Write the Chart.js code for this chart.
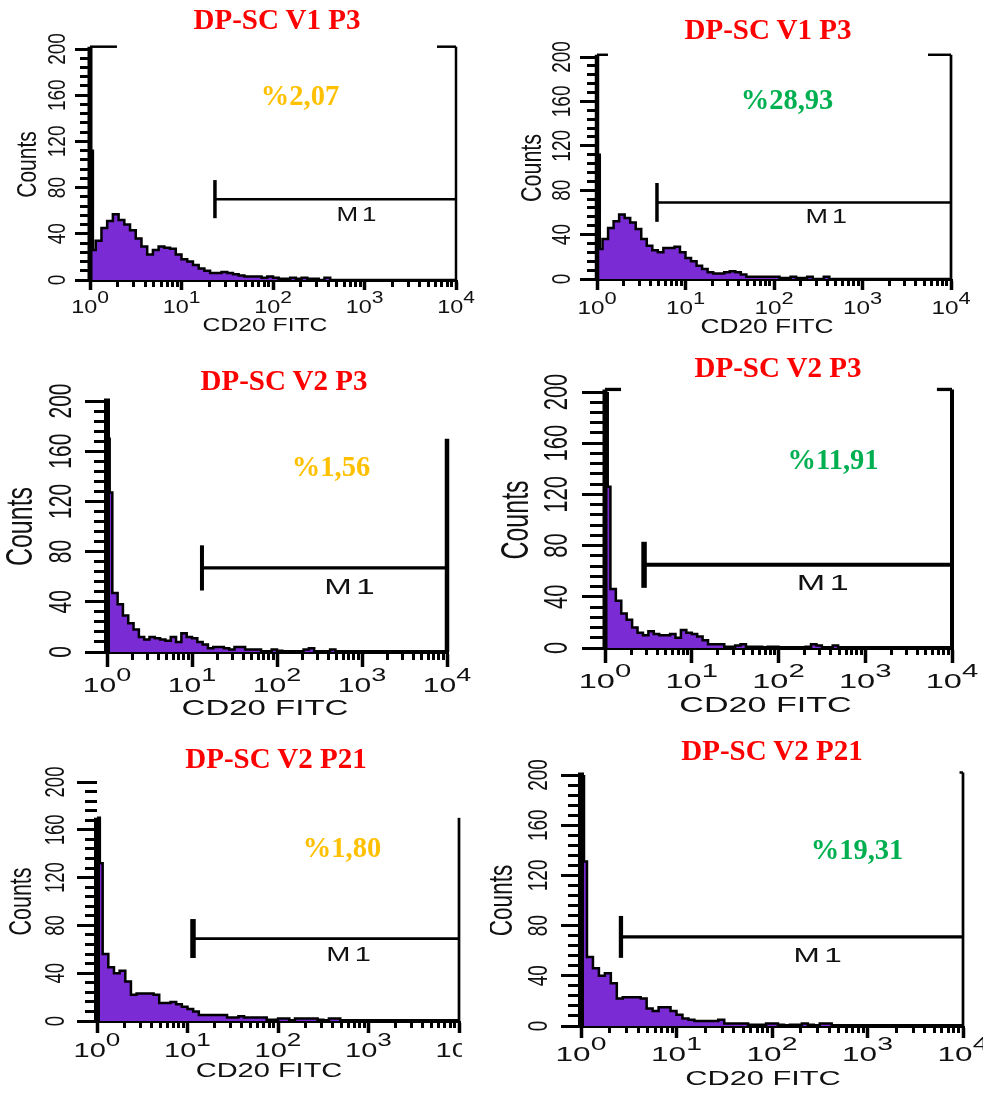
<!DOCTYPE html>
<html>
<head>
<meta charset="utf-8">
<script src="https://cdn.jsdelivr.net/npm/chart.js@4.4.1/dist/chart.umd.min.js"></script>
<style>
    html, body { margin: 0; padding: 0; background: #fff; }
    body { width: 983px; height: 1094px; position: relative; overflow: hidden; }
    canvas { position: absolute; }
    .lbl {
        position: absolute;
        transform: translate(-50%, -50%);
        font-family: "Liberation Serif", "Times New Roman", serif;
        font-weight: bold;
        line-height: 1;
        white-space: nowrap;
    }
</style>
</head>
<body>
<script>
// --- data ---
// histogram bin left edges (CD20 FITC channel, log scale); first two bins are the narrow spike at 10^0
const binEdges = [1, 1.075, 1.155, 1.334, 1.54, 1.778, 2.054, 2.371, 2.738, 3.162, 3.652, 4.217, 4.87, 5.623,
    6.494, 7.499, 8.66, 10, 11.55, 13.34, 15.4, 17.78, 20.54, 23.71, 27.38, 31.62, 36.52, 42.17, 48.7, 56.23,
    64.94, 74.99, 86.6, 100, 115.5, 133.4, 154, 177.8, 205.4, 237.1, 273.8, 316.2, 365.2, 421.7, 487, 562.3,
    649.4, 749.9, 866, 1000];

const countsV1P3A = [112, 26, 34, 45, 51, 57, 52, 48, 43, 36, 29, 22, 26, 29, 28, 27, 22, 18, 16, 13, 10, 8,
    6, 6, 7, 6, 5, 4, 3, 3, 3, 2, 3, 2, 1, 1, 2, 1, 2, 1, 1, 0, 2, 0, 0, 0, 0, 0, 0];
const countsV1P3B = [112, 27, 36, 46, 52, 58, 55, 51, 45, 36, 30, 26, 24, 28, 28, 29, 24, 19, 16, 12, 9, 6,
    5, 5, 6, 7, 6, 4, 2, 2, 2, 2, 2, 2, 1, 1, 2, 1, 1, 2, 0, 0, 2, 0, 0, 0, 0, 0, 0];
const countsV2P3A = [170, 127, 47, 38, 29, 23, 18, 12, 10, 12, 11, 10, 9, 12, 8, 15, 12, 11, 8, 6, 3, 4,
    4, 3, 2, 4, 4, 2, 2, 2, 0, 0, 2, 1, 0, 0, 0, 0, 2, 3, 0, 0, 0, 2, 0, 0, 0, 0, 0];
const countsV2P3B = [200, 126, 46, 37, 27, 22, 16, 12, 10, 13, 11, 10, 10, 11, 8, 14, 12, 11, 9, 6, 3, 3,
    3, 1, 1, 2, 3, 1, 1, 1, 0, 1, 1, 0, 0, 0, 0, 0, 1, 3, 2, 0, 0, 2, 0, 0, 0, 0, 0];
const countsV2P21A = [170, 132, 56, 45, 40, 42, 33, 22, 23, 23, 23, 22, 15, 15, 16, 14, 12, 10, 8, 5, 5, 5,
    5, 5, 3, 3, 4, 3, 3, 3, 3, 1, 1, 2, 2, 0, 2, 2, 2, 2, 1, 0, 2, 2, 0, 0, 0, 0, 0];
const countsV2P21B = [200, 131, 55, 46, 40, 42, 34, 22, 23, 23, 23, 22, 14, 12, 15, 15, 12, 9, 6, 5, 4, 4,
    4, 4, 5, 2, 2, 2, 2, 1, 1, 1, 2, 2, 1, 0, 1, 1, 2, 1, 0, 2, 2, 0, 0, 0, 0, 0, 0];

const panelTitles = ['DP-SC V1 P3', 'DP-SC V1 P3', 'DP-SC V2 P3', 'DP-SC V2 P3', 'DP-SC V2 P21', 'DP-SC V2 P21'];
const percentLabels = ['%2,07', '%28,93', '%1,56', '%11,91', '%1,80', '%19,31'];
const percentColors = ['#FFC000', '#00B050', '#FFC000', '#00B050', '#FFC000', '#00B050'];

// M1 marker: start channel and height (counts)
const gateStarts = [23.2, 4.76, 13.1, 2.82, 11.5, 2.62];
const gateLevels = [70, 69, 67, 65, 69, 71];

const xDecades = [0, 1, 2, 3, 4];
const xMultipliers = [1, 2, 3, 4, 5, 6, 7, 8, 9];
const yLabelValues = [0, 40, 80, 120, 160, 200];
const yMinorTicks = [0, 8, 16, 24, 32, 40, 48, 56, 64, 72, 80, 88, 96, 104, 112, 120, 128, 136, 144, 152,
    160, 168, 176, 184, 192, 200];
const xTitle = 'CD20 FITC';
const yTitle = 'Counts';
const markerName = 'M1';

const purple = '#7a2bd4';
const axisFont = '"Liberation Sans", Arial, Helvetica, sans-serif';

// --- layout of the six panels (page pixels) ---
const panels = [
    { counts: countsV1P3A, box: [0, 0, 490, 345], yW: 90, padTop: 49, padRight: 34, xH: 65,
      title: [277, 19], pct: [300, 96], yMaj: 15, yMin: 10, xMaj: 10, xMin: 7, axisW: 5, baseW: 3,
      gateH: 16.5, gateVW: 3.5, gateHW: 2.5, rightW: 2.5, stubW: 2.5,
      frame: { leftTop: 202, top: 202, stubs: [[1, 1.97], [6200, 10000]], rightTop: 202 },
      text: { sx: 1.3, xFont: 18, xDy: 28, yFont: 19, yDx: -32, countsFont: 21, countsDx: -62,
              cdFont: 19, cdDx: -8, cdDy: 46, m1Font: 20, m1: [859, 56] } },
    { counts: countsV1P3B, box: [490, 0, 493, 345], yW: 107, padTop: 57, padRight: 32, xH: 66,
      title: [768, 29], pct: [787, 100], yMaj: 17, yMin: 10, xMaj: 11, xMin: 7, axisW: 4.5, baseW: 3,
      gateH: 17.5, gateVW: 3.5, gateHW: 2.5, rightW: 2.7, stubW: 2.5,
      frame: { leftTop: 202, top: 202, stubs: [[1, 1.33], [5500, 10000]], rightTop: 202 },
      text: { sx: 1.35, xFont: 18, xDy: 30, yFont: 19, yDx: -34, countsFont: 21.5, countsDx: -64,
              cdFont: 19.5, cdDx: -7, cdDy: 48.5, m1Font: 20, m1: [411, 55] } },
    { counts: countsV2P3A, box: [0, 360, 490, 370], yW: 107, padTop: 41, padRight: 43, xH: 78,
      title: [284, 380], pct: [331, 467], yMaj: 22, yMin: 13, xMaj: 15, xMin: 8, axisW: 6, baseW: 4,
      gateH: 18, gateVW: 4, gateHW: 3.3, rightW: 4.5, stubW: 3,
      frame: { leftTop: 202, top: 202, stubs: [], rightTop: 170 },
      text: { sx: 1.5, xFont: 20, xDy: 34, yFont: 21, yDx: -45, countsFont: 25, countsDx: -85,
              cdFont: 22, cdDx: -12, cdDy: 57, m1Font: 22, m1: [757, 51] } },
    { counts: countsV2P3B, box: [490, 360, 493, 370], yW: 115, padTop: 32, padRight: 31, xH: 82,
      title: [778, 367], pct: [833, 460], yMaj: 23, yMin: 15, xMaj: 15, xMin: 7, axisW: 5, baseW: 4,
      gateH: 18, gateVW: 5.5, gateHW: 4, rightW: 4, stubW: 3.3,
      frame: { leftTop: 202, top: 202, stubs: [[1, 1.53], [6700, 10000]], rightTop: 202 },
      text: { sx: 1.55, xFont: 21, xDy: 34, yFont: 22, yDx: -47, countsFont: 25, countsDx: -88,
              cdFont: 22, cdDx: -13, cdDy: 58, m1Font: 22, m1: [344, 50] } },
    { counts: countsV2P21A, box: [0, 730, 462, 364], yW: 97, padTop: 52, padRight: 3, xH: 73,
      title: [276, 758], pct: [342, 848], yMaj: 20, yMin: 12, xMaj: 12, xMin: 7, axisW: 6, baseW: 4,
      gateH: 16.3, gateVW: 5.5, gateHW: 2.7, rightW: 2.7, stubW: 2.5,
      frame: { leftTop: 170, top: 202, stubs: [], rightTop: 170 },
      text: { sx: 1.45, xFont: 20, xDy: 30, yFont: 18.5, yDx: -40, countsFont: 21.5, countsDx: -75,
              cdFont: 20, cdDx: -9, cdDy: 50, m1Font: 20, m1: [638, 55] } },
    { counts: countsV2P21B, box: [490, 730, 493, 364], yW: 91, padTop: 45, padRight: 20, xH: 68,
      title: [772, 750], pct: [857, 850], yMaj: 20, yMin: 13, xMaj: 12, xMin: 7, axisW: 6, baseW: 4,
      gateH: 16.7, gateVW: 4.3, gateHW: 3.3, rightW: 2.7, stubW: 2.5,
      frame: { leftTop: 202, top: 202, stubs: [[9200, 10000]], rightTop: 202 },
      text: { sx: 1.5, xFont: 21, xDy: 29, yFont: 19, yDx: -42, countsFont: 22.5, countsDx: -78,
              cdFont: 20.5, cdDx: -9, cdDy: 53.5, m1Font: 21, m1: [318, 56] } }
];

// --- text helpers (the scanned plots are stretched sideways, so is the text) ---
function drawLabel(ctx, text, px, py, size, sx, rotated, spacing) {
    ctx.save();
    ctx.translate(px, py);
    ctx.scale(sx, 1);
    if (rotated) ctx.rotate(-Math.PI / 2);
    ctx.font = `${size}px ${axisFont}`;
    if (spacing) ctx.letterSpacing = spacing;
    ctx.textAlign = 'center';
    ctx.textBaseline = 'middle';
    ctx.fillText(text, 0, 0);
    ctx.restore();
}

function drawPower(ctx, px, py, exp, size, sx) {
    const supSize = size * 0.9;
    ctx.save();
    ctx.translate(px, py);
    ctx.scale(sx, 1);
    ctx.textAlign = 'left';
    ctx.textBaseline = 'middle';
    ctx.font = `${size}px ${axisFont}`;
    const wb = ctx.measureText('10').width;
    ctx.font = `${supSize}px ${axisFont}`;
    const ws = ctx.measureText(String(exp)).width;
    const x0 = -(wb + ws) / 2;
    ctx.font = `${size}px ${axisFont}`;
    ctx.fillText('10', x0, 0);
    ctx.font = `${supSize}px ${axisFont}`;
    ctx.fillText(String(exp), x0 + wb, -size * 0.5);
    ctx.restore();
}

const facsText = {
    id: 'facsText',
    afterDraw(chart, args, o) {
        const { ctx, chartArea: a } = chart;
        const x = chart.scales.x;
        const y = chart.scales.y;
        ctx.save();
        ctx.fillStyle = '#111';
        xDecades.forEach(e => {
            drawPower(ctx, x.getPixelForValue(Math.pow(10, e)), a.bottom + o.xDy, e, o.xFont, o.sx);
        });
        yLabelValues.forEach(v => {
            drawLabel(ctx, String(v), a.left + o.yDx, y.getPixelForValue(v), o.yFont, o.sx, true);
        });
        drawLabel(ctx, yTitle, a.left + o.countsDx, (a.top + a.bottom) / 2, o.countsFont, o.sx, true);
        drawLabel(ctx, xTitle, (a.left + a.right) / 2 + o.cdDx, a.bottom + o.cdDy, o.cdFont, o.sx, false);
        drawLabel(ctx, markerName, x.getPixelForValue(o.m1[0]), y.getPixelForValue(o.m1[1]),
            o.m1Font, o.sx, false, '3px');
        ctx.restore();
    }
};

function segment(points, width) {
    return {
        data: points.map(([px, py]) => ({ x: px, y: py })),
        borderColor: '#000',
        borderWidth: width,
        borderCapStyle: 'butt',
        pointRadius: 0,
        fill: false,
        clip: false
    };
}

function addLabel(text, pos, size, color) {
    const d = document.createElement('div');
    d.className = 'lbl';
    d.textContent = text;
    d.style.left = pos[0] + 'px';
    d.style.top = pos[1] + 'px';
    d.style.fontSize = size + 'px';
    d.style.color = color;
    document.body.appendChild(d);
}

const xMinorTicks = [];
xDecades.slice(0, -1).forEach(e => xMultipliers.forEach(m => xMinorTicks.push(m * Math.pow(10, e))));
xMinorTicks.push(10000);
const xMajorTicks = xDecades.map(e => Math.pow(10, e));

function renderPanel(p, i) {
    const canvas = document.createElement('canvas');
    canvas.width = p.box[2];
    canvas.height = p.box[3];
    canvas.style.left = p.box[0] + 'px';
    canvas.style.top = p.box[1] + 'px';
    document.body.appendChild(canvas);

    const histPoints = p.counts.map((c, k) => ({ x: binEdges[k], y: c }));
    histPoints.push({ x: binEdges[binEdges.length - 1], y: 0 });
    histPoints.push({ x: 10000, y: 0 });

    const f = p.frame;
    const g = gateStarts[i];
    const lv = gateLevels[i];
    const lines = [
        segment([[g, lv - p.gateH], [g, lv + p.gateH]], p.gateVW),
        segment([[g, lv], [10000, lv]], p.gateHW),
        segment([[1, 0], [1, f.leftTop]], p.axisW),
        segment([[10000, 0], [10000, f.rightTop]], p.rightW)
    ];
    f.stubs.forEach(s => lines.push(segment([[s[0], f.top], [s[1], f.top]], p.stubW)));

    new Chart(canvas, {
        type: 'line',
        data: {
            datasets: lines.concat([{
                data: histPoints,
                stepped: 'before',
                fill: 'origin',
                backgroundColor: purple,
                borderColor: '#000',
                borderWidth: 2.5,
                pointRadius: 0
            }])
        },
        options: {
            responsive: false,
            animation: false,
            events: [],
            layout: { padding: { top: p.padTop, right: p.padRight, left: 0, bottom: 0 } },
            plugins: {
                legend: { display: false },
                tooltip: { enabled: false },
                facsText: p.text
            },
            scales: {
                x: {
                    type: 'logarithmic', min: 1, max: 10000, position: 'bottom', weight: 0,
                    afterBuildTicks: s => { s.ticks = xMinorTicks.map(v => ({ value: v })); },
                    afterFit: s => { s.height = 0; },
                    grid: { drawOnChartArea: false, tickLength: p.xMin, tickWidth: 3, tickColor: '#000' },
                    border: { display: false },
                    ticks: { display: false }
                },
                xMajor: {
                    type: 'logarithmic', min: 1, max: 10000, position: 'bottom', weight: 1,
                    afterBuildTicks: s => { s.ticks = xMajorTicks.map(v => ({ value: v })); },
                    afterFit: s => { s.height = p.xH; },
                    grid: { drawOnChartArea: false, tickLength: p.xMaj, tickWidth: 3.5, tickColor: '#000' },
                    border: { display: true, width: p.baseW, color: '#000' },
                    ticks: { display: false }
                },
                y: {
                    type: 'linear', min: 0, max: 200, position: 'left', weight: 0,
                    afterBuildTicks: s => { s.ticks = yMinorTicks.map(v => ({ value: v })); },
                    afterFit: s => { s.width = 0; },
                    grid: { drawOnChartArea: false, tickLength: p.yMin, tickWidth: 3, tickColor: '#000' },
                    border: { display: false },
                    ticks: { display: false }
                },
                yMajor: {
                    type: 'linear', min: 0, max: 200, position: 'left', weight: 1,
                    afterBuildTicks: s => { s.ticks = yLabelValues.map(v => ({ value: v })); },
                    afterFit: s => { s.width = p.yW; },
                    grid: { drawOnChartArea: false, tickLength: p.yMaj, tickWidth: 3, tickColor: '#000' },
                    border: { display: false },
                    ticks: { display: false }
                }
            }
        },
        plugins: [facsText]
    });

    addLabel(panelTitles[i], p.title, 29, '#FF0000');
    addLabel(percentLabels[i], p.pct, 28.5, percentColors[i]);
}

document.addEventListener('DOMContentLoaded', () => {
    panels.forEach(renderPanel);
});
</script>
</body>
</html>
